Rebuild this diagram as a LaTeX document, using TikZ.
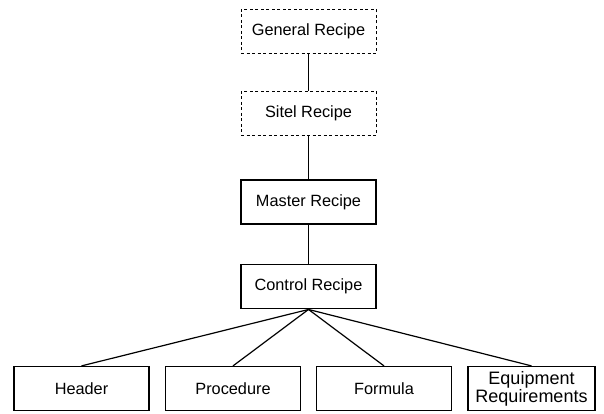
\documentclass[tikz,border=0pt]{standalone}
\usepackage{fontspec}
\setmainfont{Liberation Sans}
\newlength{\du}
\setlength{\du}{1pt}

\begin{document}
\begin{tikzpicture}[yscale=-1,
  recipe/.style={draw, line width=1.2\du, minimum width=135\du, minimum height=44\du,
    inner sep=0pt, align=center, font=\fontsize{16.3}{16.5}\selectfont},
  planned/.style={recipe, line width=0.9\du, dash pattern=on 3\du off 2.5\du},
  stored/.style={recipe, line width=1.9\du},
  link/.style={line width=1.2\du}]
\useasboundingbox (0\du,0\du) rectangle (604\du,414\du);
% recipe levels
\node[planned] (general) at (308.5\du,31.5\du){General Recipe};
\node[planned] (site) at (308.5\du,113.5\du){Sitel Recipe};
\node[stored] (master) at (308.5\du,202\du){Master Recipe};
\node[stored] (control) at (308.5\du,286.5\du){Control Recipe};
% parts of the control recipe
\node[recipe] (header) at (81.5\du,388.5\du){Header};
\node[recipe] (procedure) at (233\du,388.5\du){Procedure};
\node[recipe] (formula) at (384\du,388.5\du){Formula};
\node[recipe, minimum width=127\du, font=\fontsize{18}{16.5}\selectfont] (equipment) at (531.5\du,388.5\du){Equipment\\Requirements};
\draw[link] (general) -- (site);
\draw[link] (site) -- (master);
\draw[link] (master) -- (control);
\foreach \part in {header,procedure,formula,equipment}
  \draw[link] (control.south) -- (\part.north);
\end{tikzpicture}
\end{document}
